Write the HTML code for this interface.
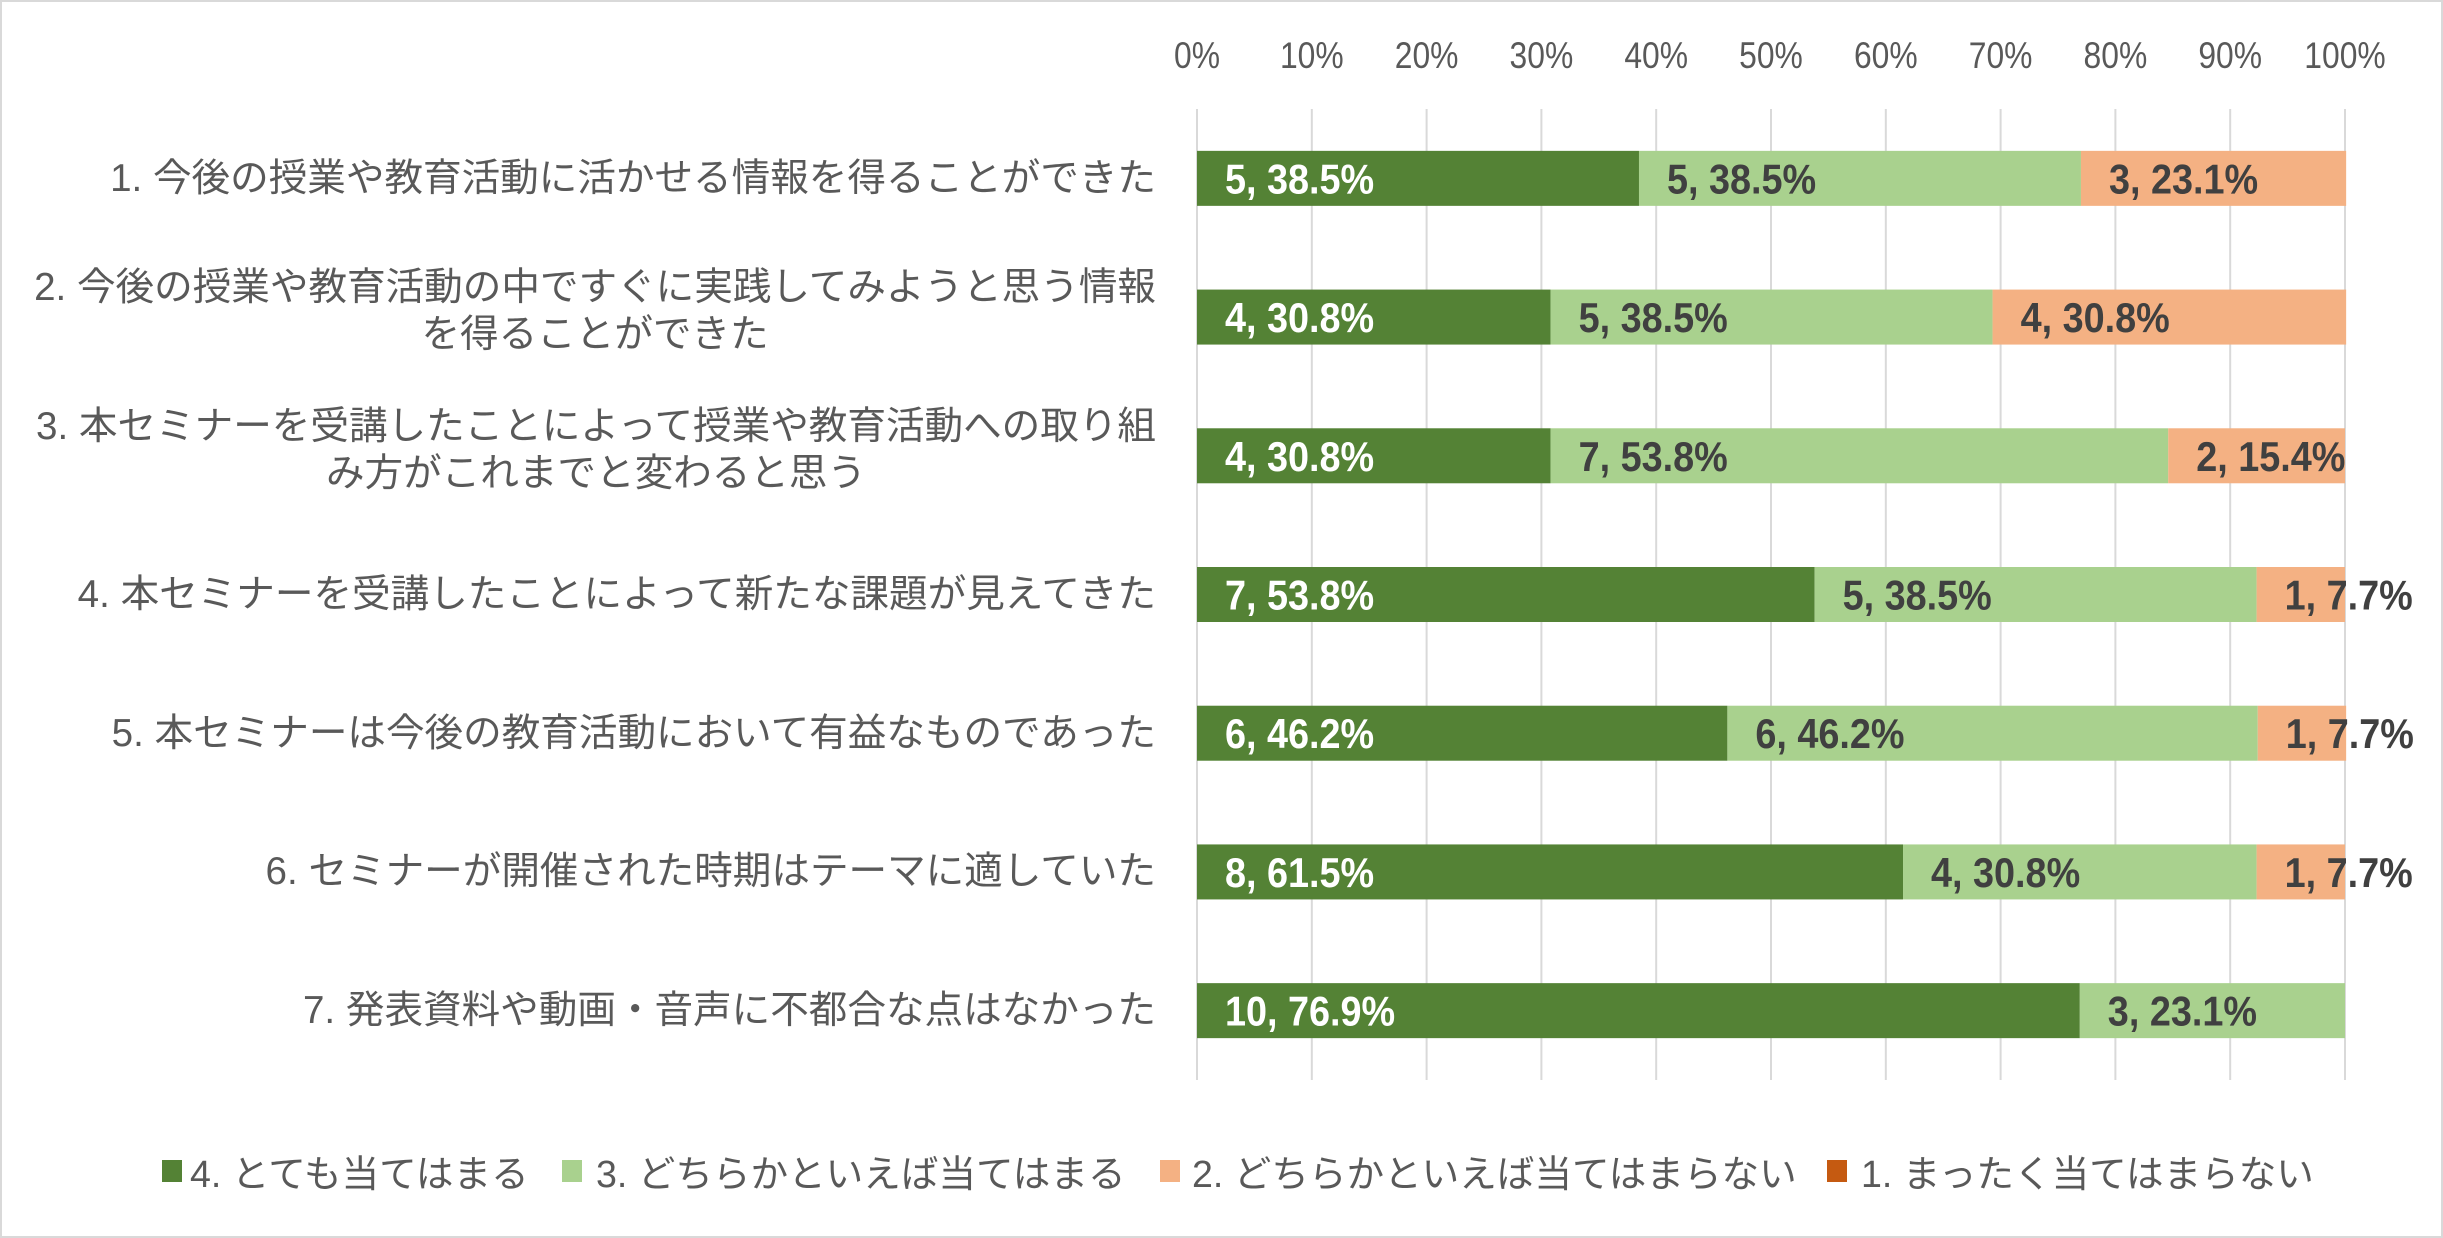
<!DOCTYPE html>
<html><head><meta charset="utf-8"><style>
html,body{margin:0;padding:0;background:#fff;}
#wrap{position:relative;width:2443px;height:1238px;overflow:hidden;background:#fff;}
.cat{position:absolute;right:1287px;text-align:center;font-family:"Liberation Sans","Noto Sans CJK JP",sans-serif;font-size:38.6px;letter-spacing:0px;color:#595959;line-height:47px;white-space:pre;}
.leg{position:absolute;font-family:"Liberation Sans","Noto Sans CJK JP",sans-serif;font-size:37.6px;letter-spacing:0px;color:#595959;white-space:nowrap;top:1143px;}
.sw{position:absolute;width:20px;height:22px;top:1160px;}
</style></head><body>
<div id="wrap">
<div style="position:absolute;left:0;top:0;width:2439px;height:1234px;border:2px solid #d9d9d9;"></div>
<svg id="svg" width="2443" height="1238" style="position:absolute;left:0;top:0"></svg>
<div id="cats"></div>
<div class="sw" style="left:162px;background:#548235"></div>
<div class="leg" style="left:190px">4. とても当てはまる</div>
<div class="sw" style="left:562px;background:#a9d18e"></div>
<div class="leg" style="left:596px">3. どちらかといえば当てはまる</div>
<div class="sw" style="left:1160px;background:#f4b183"></div>
<div class="leg" style="left:1192px">2. どちらかといえば当てはまらない</div>
<div class="sw" style="left:1827px;background:#c55a11"></div>
<div class="leg" style="left:1861px">1. まったく当てはまらない</div>
</div>
<script>
const categories = [
 "1. 今後の授業や教育活動に活かせる情報を得ることができた",
 "2. 今後の授業や教育活動の中ですぐに実践してみようと思う情報\nを得ることができた",
 "3. 本セミナーを受講したことによって授業や教育活動への取り組\nみ方がこれまでと変わると思う",
 "4. 本セミナーを受講したことによって新たな課題が見えてきた",
 "5. 本セミナーは今後の教育活動において有益なものであった",
 "6. セミナーが開催された時期はテーマに適していた",
 "7. 発表資料や動画・音声に不都合な点はなかった"
];
const counts4 = [5,4,4,7,6,8,10];
const pct4 = [38.5,30.8,30.8,53.8,46.2,61.5,76.9];
const counts3 = [5,5,7,5,6,4,3];
const pct3 = [38.5,38.5,53.8,38.5,46.2,30.8,23.1];
const counts2 = [3,4,2,1,1,1,0];
const pct2 = [23.1,30.8,15.4,7.7,7.7,7.7,0];
const counts1 = [0,0,0,0,0,0,0];
const pct1 = [0,0,0,0,0,0,0];
const ticks = [0,10,20,30,40,50,60,70,80,90,100];

const NS="http://www.w3.org/2000/svg";
const svg=document.getElementById('svg');
const X0=1197, X1=2345, Y0=109, Y1=1080;
const band=(Y1-Y0)/categories.length, barH=55;
const xs=v=>X0+(X1-X0)*v/100;
const yc=i=>Y0+band*(i+0.5);
function mk(tag,attrs){const e=document.createElementNS(NS,tag);for(const k in attrs)e.setAttribute(k,attrs[k]);svg.appendChild(e);return e;}
ticks.forEach((t,i)=>{
 const g=mk('line',{x1:xs(t),x2:xs(t),y1:Y0,y2:Y1,stroke:'#d9d9d9','stroke-width':2});
 
 
 const tx=mk('text',{x:0,y:0,'text-anchor':'middle','font-family':'Liberation Sans, sans-serif','font-size':37,fill:'#595959',transform:'translate('+xs(t)+',68) scale(0.86,1)'});
 tx.textContent=t+'%';
 
 
});
const series=[[counts4,pct4,'#548235','#ffffff','very-true'],[counts3,pct3,'#a9d18e','#404040','somewhat-true'],[counts2,pct2,'#f4b183','#404040','somewhat-untrue'],[counts1,pct1,'#c55a11','#ffffff','not-true']];
categories.forEach((c,i)=>{
 let acc=0;
 series.forEach(([cn,pc,col,tc,nm])=>{
  const v=pc[i];
  if(v>0){
   const r=mk('rect',{x:xs(acc),y:yc(i)-barH/2,width:xs(acc+v)-xs(acc),height:barH,fill:col});
   
   
   const t=mk('text',{x:0,y:0,'font-family':'Liberation Sans, sans-serif','font-weight':'bold','font-size':42,fill:tc,transform:'translate('+(xs(acc)+28)+','+(yc(i)+15)+') scale(0.9,1)'});
   t.textContent=cn[i]+', '+v.toFixed(1)+'%';
   
   
  }
  acc+=v;
 });
 const d=document.createElement('div');
 d.className='cat';
 const lines=c.split('\n').length;
 d.style.top=(yc(i)-lines*47/2+(lines>1?-6:0))+'px';
 d.textContent=c;
 
 
 document.getElementById('cats').appendChild(d);
});
</script>
</body></html>
